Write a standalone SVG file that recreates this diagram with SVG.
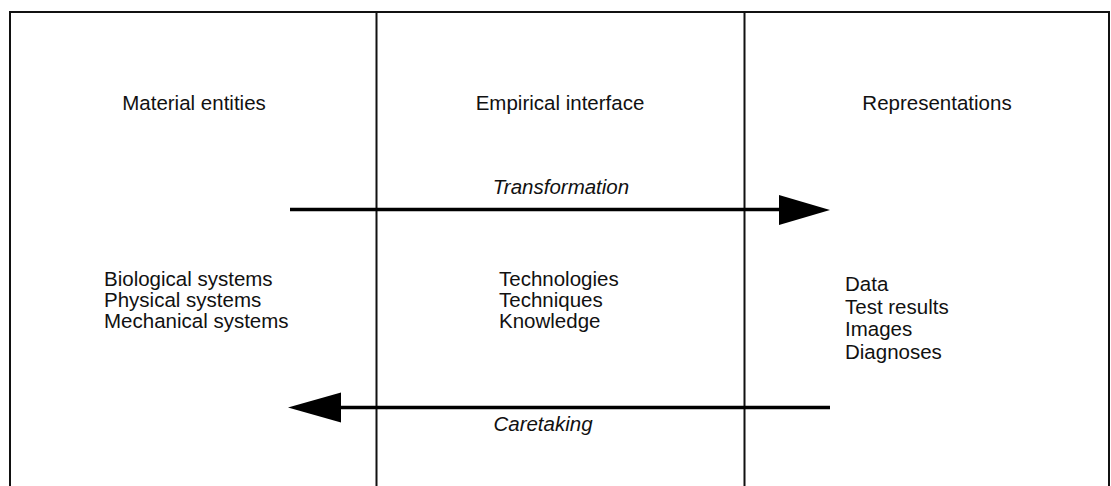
<svg xmlns="http://www.w3.org/2000/svg" width="1111" height="486" viewBox="0 0 1111 486">
<defs>
<style>
.t{font-family:"Liberation Sans",Arial,sans-serif;font-size:20.5px;fill:#111}
.i{font-style:italic}
.m{text-anchor:middle}
.frame{fill:none;stroke:#111;stroke-width:2}
.arrow{stroke:#000;stroke-width:3.5;fill:none}
.head{fill:#000}
</style>
</defs>
<rect width="1111" height="486" fill="#fff"/>
<g id="frame">
<path class="frame" d="M10,487 V12 H1109 V487"/>
<line class="frame" x1="376.5" y1="12" x2="376.5" y2="487"/>
<line class="frame" x1="744.5" y1="12" x2="744.5" y2="487"/>
</g>
<g id="material">
<text class="t m" x="194" y="110">Material entities</text>
<text class="t" x="104" y="286">Biological systems</text>
<text class="t" x="104" y="307">Physical systems</text>
<text class="t" x="104" y="328">Mechanical systems</text>
</g>
<g id="interface">
<text class="t m" x="560" y="110">Empirical interface</text>
<text class="t" x="499" y="286">Technologies</text>
<text class="t" x="499" y="307">Techniques</text>
<text class="t" x="499" y="328">Knowledge</text>
</g>
<g id="representations">
<text class="t m" x="937" y="110">Representations</text>
<text class="t" x="845" y="291">Data</text>
<text class="t" x="845" y="314">Test results</text>
<text class="t" x="845" y="336">Images</text>
<text class="t" x="845" y="359">Diagnoses</text>
</g>
<g id="connectors">
<line class="arrow" x1="290" y1="209.5" x2="782" y2="209.5"/>
<polygon class="head" points="779,195 830,210 779,225"/>
<text class="t i m" x="561" y="194">Transformation</text>
<line class="arrow" x1="830" y1="407.5" x2="338" y2="407.5"/>
<polygon class="head" points="341,392.5 288,407.5 341,422.5"/>
<text class="t i m" x="543" y="431">Caretaking</text>
</g>
</svg>
